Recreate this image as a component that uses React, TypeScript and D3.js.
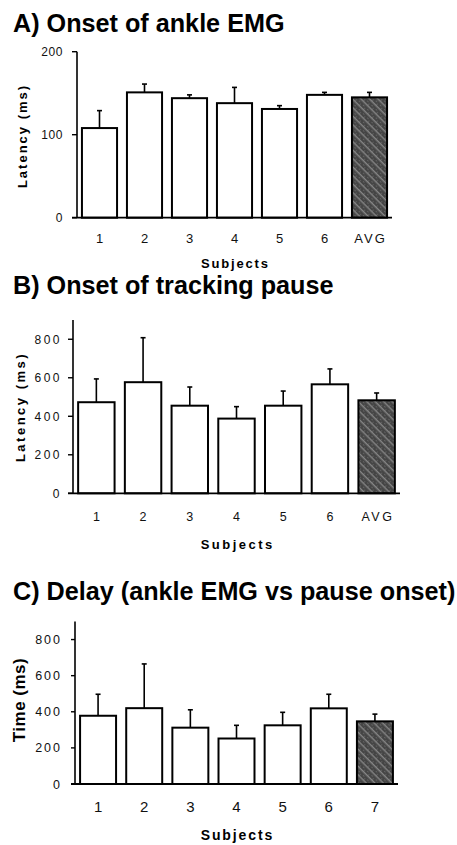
import React from "react";
import * as d3 from "d3";

// panel A: onset of ankle EMG
const subjectsAB = ["1", "2", "3", "4", "5", "6", "AVG"];
const emgMean = [108, 151, 144, 138, 131, 148, 145];
const emgSD = [21, 10, 4, 19, 4, 3, 6];

// panel B: onset of tracking pause
const pauseMean = [473, 577, 455, 388, 455, 566, 483];
const pauseSD = [121, 231, 97, 62, 76, 80, 38];

// panel C: delay
const subjectsC = ["1", "2", "3", "4", "5", "6", "7"];
const delayMean = [378, 420, 312, 252, 325, 419, 347];
const delaySD = [119, 245, 99, 73, 72, 78, 40];

const ticksA = [0, 100, 200];
const ticksBC = [0, 200, 400, 600, 800];

const FONT = "'Liberation Sans', Arial, Helvetica, sans-serif";

type PanelProps = {
  title: string;
  titleY: number;
  cats: string[];
  means: number[];
  sds: number[];
  yMax: number;
  ticks: number[];
  yLabel: string;
  yTop: number;
  yBottom: number;
  xLeft: number;
  xRight: number;
  baseStart: number;
  tickLen: number;
  tickLabelX: number;
  tickFont: number;
  tickSpacing: number;
  xLabelY: number;
  xFont: number;
  xSpacing: number;
  subjY: number;
  subjFont: number;
  subjSpacing: number;
  yLabX: number;
  yLabY: number;
  yLabFont: number;
  yLabSpacing: number;
};

function Panel(p: PanelProps) {
  const x = d3
    .scaleBand<string>()
    .domain(p.cats)
    .range([p.xLeft, p.xRight])
    .paddingInner(0.22)
    .paddingOuter(0.11);
  const y = d3.scaleLinear().domain([0, p.yMax]).range([p.yBottom, p.yTop]);
  const last = p.cats.length - 1;

  return (
    <g>
      <text x={13} y={p.titleY} fontFamily={FONT} fontWeight="bold" fontSize={25.2} fill="#000">
        {p.title}
      </text>

      {p.cats.map((c, i) => {
        const bx = x(c)!;
        const w = x.bandwidth();
        const cx = bx + w / 2;
        const top = y(p.means[i]);
        const errTop = y(p.means[i] + p.sds[i]);
        return (
          <g key={c}>
            <line x1={cx} x2={cx} y1={top} y2={errTop} stroke="#000" strokeWidth={1.6} />
            <line x1={cx - 2.5} x2={cx + 2.5} y1={errTop} y2={errTop} stroke="#000" strokeWidth={1.6} />
            <rect
              x={bx}
              y={top}
              width={w}
              height={y(0) - top}
              fill={i === last ? "url(#avgFill)" : "#fff"}
              stroke="#000"
              strokeWidth={2}
            />
          </g>
        );
      })}

      {/* y axis */}
      <line x1={p.xLeft} x2={p.xLeft} y1={p.yTop} y2={y(0)} stroke="#000" strokeWidth={1.6} />
      <line x1={p.baseStart} x2={p.xRight} y1={y(0)} y2={y(0)} stroke="#000" strokeWidth={1.8} />
      {p.ticks.map((t) => (
        <g key={t}>
          <line x1={p.xLeft - p.tickLen} x2={p.xLeft} y1={y(t)} y2={y(t)} stroke="#000" strokeWidth={1.4} />
          <text
            x={p.tickLabelX}
            y={y(t)}
            dy="0.36em"
            textAnchor="end"
            fontFamily={FONT}
            fontSize={p.tickFont}
            letterSpacing={p.tickSpacing}
            fill="#111"
          >
            {t}
          </text>
        </g>
      ))}

      {/* x tick labels */}
      {p.cats.map((c) => (
        <text
          key={c}
          x={x(c)! + x.bandwidth() / 2 + p.xSpacing / 2}
          y={p.xLabelY}
          textAnchor="middle"
          fontFamily={FONT}
          fontSize={p.xFont}
          letterSpacing={p.xSpacing}
          fill="#111"
        >
          {c}
        </text>
      ))}
      <text
        x={(p.xLeft + p.xRight) / 2 + p.subjSpacing / 2}
        y={p.subjY}
        textAnchor="middle"
        fontFamily={FONT}
        fontWeight="bold"
        fontSize={p.subjFont}
        letterSpacing={p.subjSpacing}
        fill="#000"
      >
        Subjects
      </text>
      <text
        transform={`translate(${p.yLabX},${p.yLabY}) rotate(-90)`}
        textAnchor="middle"
        fontFamily={FONT}
        fontWeight="bold"
        fontSize={p.yLabFont}
        letterSpacing={p.yLabSpacing}
        fill="#000"
      >
        {p.yLabel}
      </text>
    </g>
  );
}

export default function App() {
  return (
    <svg
      width={457}
      height={845}
      style={{ position: "absolute", left: 0, top: 0, background: "#fff" }}
    >
      <defs>
        <pattern id="avgFill" width={6} height={6} patternUnits="userSpaceOnUse" patternTransform="rotate(45)">
          <rect width={6} height={6} fill="#454545" />
          <rect width={6} height={1.4} fill="#858585" />
          <rect x={1} y={3} width={1.5} height={1} fill="#6a6a6a" />
          <rect x={4} y={4.5} width={1} height={1} fill="#777" />
        </pattern>
      </defs>
      <Panel
        title="A) Onset of ankle EMG"
        titleY={32}
        cats={subjectsAB}
        means={emgMean}
        sds={emgSD}
        yMax={200}
        ticks={ticksA}
        yLabel="Latency (ms)"
        yTop={51.7}
        yBottom={217.7}
        xLeft={77}
        xRight={392}
        baseStart={72}
        tickLen={5}
        tickLabelX={63}
        tickFont={12}
        tickSpacing={0.6}
        xLabelY={242.5}
        xFont={13}
        xSpacing={2}
        subjY={268}
        subjFont={13}
        subjSpacing={1.8}
        yLabX={26.5}
        yLabY={136}
        yLabFont={13}
        yLabSpacing={2}
      />
      <Panel
        title="B) Onset of tracking pause"
        titleY={294}
        cats={subjectsAB}
        means={pauseMean}
        sds={pauseSD}
        yMax={900}
        ticks={ticksBC}
        yLabel="Latency (ms)"
        yTop={320}
        yBottom={493.3}
        xLeft={73}
        xRight={400}
        baseStart={68}
        tickLen={5}
        tickLabelX={62}
        tickFont={12}
        tickSpacing={2.5}
        xLabelY={520.7}
        xFont={12.5}
        xSpacing={2.5}
        subjY={549}
        subjFont={13}
        subjSpacing={2.5}
        yLabX={24.5}
        yLabY={407}
        yLabFont={13}
        yLabSpacing={2.5}
      />
      <Panel
        title="C) Delay (ankle EMG vs pause onset)"
        titleY={600}
        cats={subjectsC}
        means={delayMean}
        sds={delaySD}
        yMax={900}
        ticks={ticksBC}
        yLabel="Time (ms)"
        yTop={621.5}
        yBottom={784}
        xLeft={75}
        xRight={398}
        baseStart={71}
        tickLen={4}
        tickLabelX={62}
        tickFont={12.5}
        tickSpacing={2}
        xLabelY={812}
        xFont={15}
        xSpacing={1}
        subjY={840}
        subjFont={14}
        subjSpacing={1.9}
        yLabX={25}
        yLabY={700}
        yLabFont={17}
        yLabSpacing={0.5}
      />
    </svg>
  );
}
